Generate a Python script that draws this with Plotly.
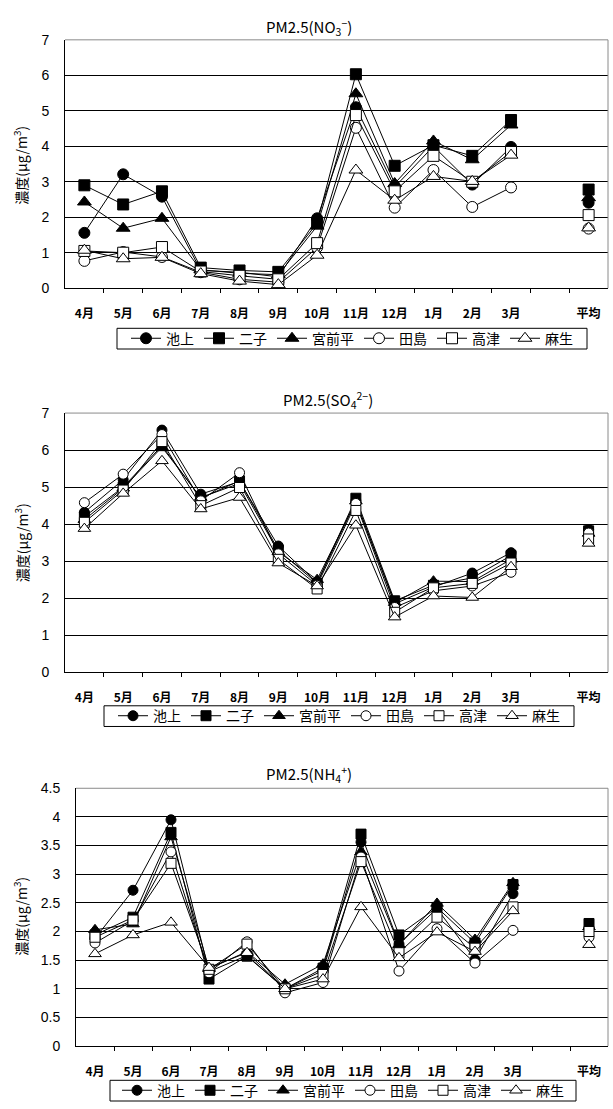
import plotly.graph_objects as go

W, H = 613, 1109

months = ["4月", "5月", "6月", "7月", "8月", "9月", "10月", "11月", "12月", "1月", "2月", "3月"]
avg_label = "平均"
sites = ["池上", "二子", "宮前平", "田島", "高津", "麻生"]

# NO3- : twelve monthly values followed by the annual mean
no3_ikegami = [1.56, 3.21, 2.58, 0.50, 0.45, 0.32, 1.97, 5.10, 2.85, 4.00, 2.92, 3.98, 2.41]
no3_futago = [2.90, 2.36, 2.73, 0.58, 0.50, 0.46, 1.83, 6.03, 3.45, 4.03, 3.73, 4.74, 2.78]
no3_miyamaedaira = [2.43, 1.69, 1.97, 0.52, 0.42, 0.38, 1.75, 5.48, 2.95, 4.15, 3.62, 4.60, 2.55]
no3_tajima = [0.77, 1.02, 0.88, 0.45, 0.25, 0.17, 1.15, 4.52, 2.27, 3.33, 2.29, 2.84, 1.68]
no3_takatsu = [1.05, 1.00, 1.16, 0.47, 0.35, 0.25, 1.27, 4.88, 2.73, 3.73, 3.00, 3.84, 2.06]
no3_asao = [1.07, 0.83, 0.87, 0.41, 0.20, 0.10, 0.93, 3.33, 2.48, 3.15, 3.01, 3.75, 1.70]

# SO4 2-
so4_ikegami = [4.32, 5.20, 6.54, 4.81, 5.15, 3.41, 2.42, 4.62, 1.85, 2.30, 2.68, 3.23, 3.85]
so4_futago = [4.20, 5.00, 6.12, 4.70, 5.17, 3.30, 2.40, 4.70, 1.93, 2.35, 2.55, 3.15, 3.82]
so4_miyamaedaira = [4.12, 4.97, 6.08, 4.72, 5.10, 3.25, 2.50, 4.62, 1.88, 2.46, 2.45, 3.05, 3.75]
so4_tajima = [4.58, 5.35, 6.42, 4.63, 5.39, 3.20, 2.35, 4.56, 1.75, 2.20, 2.33, 2.70, 3.76]
so4_takatsu = [4.05, 4.92, 6.23, 4.50, 4.99, 3.05, 2.25, 4.37, 1.62, 2.28, 2.40, 2.95, 3.60]
so4_asao = [3.88, 4.83, 5.71, 4.41, 4.72, 2.95, 2.33, 3.97, 1.49, 2.06, 2.02, 2.85, 3.48]

# NH4+
nh4_ikegami = [1.88, 2.72, 3.95, 1.30, 1.58, 1.00, 1.32, 3.56, 1.78, 2.40, 1.51, 2.66, 2.05]
nh4_futago = [1.94, 2.25, 3.73, 1.17, 1.57, 1.00, 1.36, 3.70, 1.94, 2.42, 1.80, 2.82, 2.14]
nh4_miyamaedaira = [2.03, 2.13, 3.65, 1.35, 1.65, 1.08, 1.43, 3.39, 1.77, 2.49, 1.86, 2.85, 2.08]
nh4_tajima = [1.80, 2.19, 3.39, 1.28, 1.82, 0.93, 1.11, 3.30, 1.31, 2.05, 1.45, 2.02, 1.90]
nh4_takatsu = [1.90, 2.20, 3.19, 1.34, 1.78, 1.00, 1.25, 3.22, 1.63, 2.25, 1.71, 2.43, 2.00]
nh4_asao = [1.61, 1.94, 2.16, 1.37, 1.63, 1.00, 1.17, 2.43, 1.54, 1.99, 1.65, 2.36, 1.77]

# marker style per site: (symbol, fill colour, size bump)
styles = [
    ("circle", "black", 0),
    ("square", "black", 0),
    ("triangle-up", "black", 1),
    ("circle", "white", 0),
    ("square", "white", 0),
    ("triangle-up", "white", 1),
]

JP = "Noto Sans CJK JP"
NUM = "Liberation Sans Narrow, Liberation Sans, Arial"


def px(x):
    return x / W


def py(y):
    return 1 - y / H


panels = [
    dict(
        series=[no3_ikegami, no3_futago, no3_miyamaedaira, no3_tajima, no3_takatsu, no3_asao],
        title="PM2.5(NO<sub>3</sub><sup>−</sup>)", title_xy=(309, 19),
        left=65, top=32.3, bottom=284.3, ymax=7, dtick=1,
        legend_box=(117, 325, 587, 346), ytitle_y=160, msize=11,
    ),
    dict(
        series=[so4_ikegami, so4_futago, so4_miyamaedaira, so4_tajima, so4_takatsu, so4_asao],
        title="PM2.5(SO<sub>4</sub><sup>2−</sup>)", title_xy=(328, 398),
        left=65, top=411, bottom=674, ymax=7, dtick=1,
        legend_box=(104, 708, 574, 729), ytitle_y=543, msize=10,
    ),
    dict(
        series=[nh4_ikegami, nh4_futago, nh4_miyamaedaira, nh4_tajima, nh4_takatsu, nh4_asao],
        title="PM2.5(NH<sub>4</sub><sup>+</sup>)", title_xy=(309, 777),
        left=76, top=791.7, bottom=1053.3, ymax=4.5, dtick=0.5,
        legend_box=(110, 1088, 576, 1109), ytitle_y=922, msize=10,
    ),
]

RIGHT = 608
xcats = list(range(12)) + [12, 13]

fig = go.Figure()
layout = dict(
    width=W, height=H,
    margin=dict(l=0, r=0, t=0, b=0),
    paper_bgcolor="white", plot_bgcolor="white",
    showlegend=True,
)
annotations = []
shapes = []

for i, p in enumerate(panels):
    n = i + 1
    sx = "" if n == 1 else str(n)
    xname, yname = "x" + sx, "y" + sx
    legname = "legend" + sx

    for name, vals, (sym, fill, bump) in zip(sites, p["series"], styles):
        yv = list(vals[:12]) + [None, vals[12]]
        fig.add_trace(go.Scatter(
            x=xcats, y=yv, name=name, mode="lines+markers",
            xaxis=xname, yaxis=yname, legend=legname,
            connectgaps=False,
            line=dict(color="black", width=1),
            marker=dict(symbol=sym, size=p["msize"] + bump, color=fill,
                        line=dict(color="black", width=1)),
        ))

    ticks = [round(k * p["dtick"], 2) for k in range(int(round(p["ymax"] / p["dtick"])) + 1)]
    layout["xaxis" + sx] = dict(
        domain=[px(p["left"]), px(RIGHT)], anchor=yname,
        range=[-0.5, 13.5], tickmode="array",
        tickvals=list(range(12)) + [13], ticktext=months + [avg_label],
        ticks="", showgrid=False, zeroline=False,
        showline=True, linecolor="black", linewidth=1,
        tickfont=dict(family=JP, size=12, color="black", weight="bold"),
        ticklabelstandoff=14,
        minor=dict(tickmode="array", tickvals=[k + 0.5 for k in range(13)],
                   ticks="outside", ticklen=4, tickwidth=1, tickcolor="black",
                   showgrid=False),
    )
    layout["yaxis" + sx] = dict(
        domain=[py(p["bottom"]), py(p["top"])], anchor=xname,
        range=[0, p["ymax"]], tickmode="array", tickvals=ticks,
        ticks="", showgrid=True, gridcolor="black", gridwidth=1,
        zeroline=False, showline=True, linecolor="black", linewidth=1,
        tickfont=dict(family=NUM, size=14, color="black"),
        ticklabelstandoff=12,
    )

    # legend box drawn as a frame, legend entries centred inside it
    bx0, by0, bx1, by1 = p["legend_box"]
    layout[legname] = dict(
        orientation="h", x=px((bx0 + bx1) / 2), y=py((by0 + by1) / 2),
        xanchor="center", yanchor="middle",
        borderwidth=0, bgcolor="rgba(0,0,0,0)",
        font=dict(family=JP, size=14, color="black"),
        itemclick=False, itemdoubleclick=False,
    )
    shapes.append(dict(
        type="rect", xref="paper", yref="paper",
        x0=px(bx0), y0=py(by1), x1=px(bx1), y1=py(by0),
        line=dict(color="black", width=1), fillcolor="rgba(0,0,0,0)",
        layer="above",
    ))

    annotations.append(dict(
        text=p["title"], xref="paper", yref="paper",
        x=px(p["title_xy"][0]), y=py(p["title_xy"][1]),
        xanchor="center", yanchor="middle", showarrow=False,
        font=dict(family=JP, size=15, color="black"),
    ))
    annotations.append(dict(
        text="濃度(μg/m<sup>3</sup>)", xref="paper", yref="paper",
        x=px(21), y=py(p["ytitle_y"]), textangle=-90,
        xanchor="center", yanchor="middle", showarrow=False,
        font=dict(family=JP, size=14, color="black"),
    ))

    # grey plot-area frame on the top and right sides
    d = layout["xaxis" + sx]["domain"]
    e = layout["yaxis" + sx]["domain"]
    for x0, y0, x1, y1 in [(d[0], e[1], d[1], e[1]), (d[1], e[0], d[1], e[1])]:
        shapes.append(dict(
            type="line", xref="paper", yref="paper",
            x0=x0, y0=y0, x1=x1, y1=y1, layer="above",
            line=dict(color="#8a8a8a", width=1),
        ))

layout["annotations"] = annotations
layout["shapes"] = shapes
fig.update_layout(**layout)

fig.write_html("out.html")
